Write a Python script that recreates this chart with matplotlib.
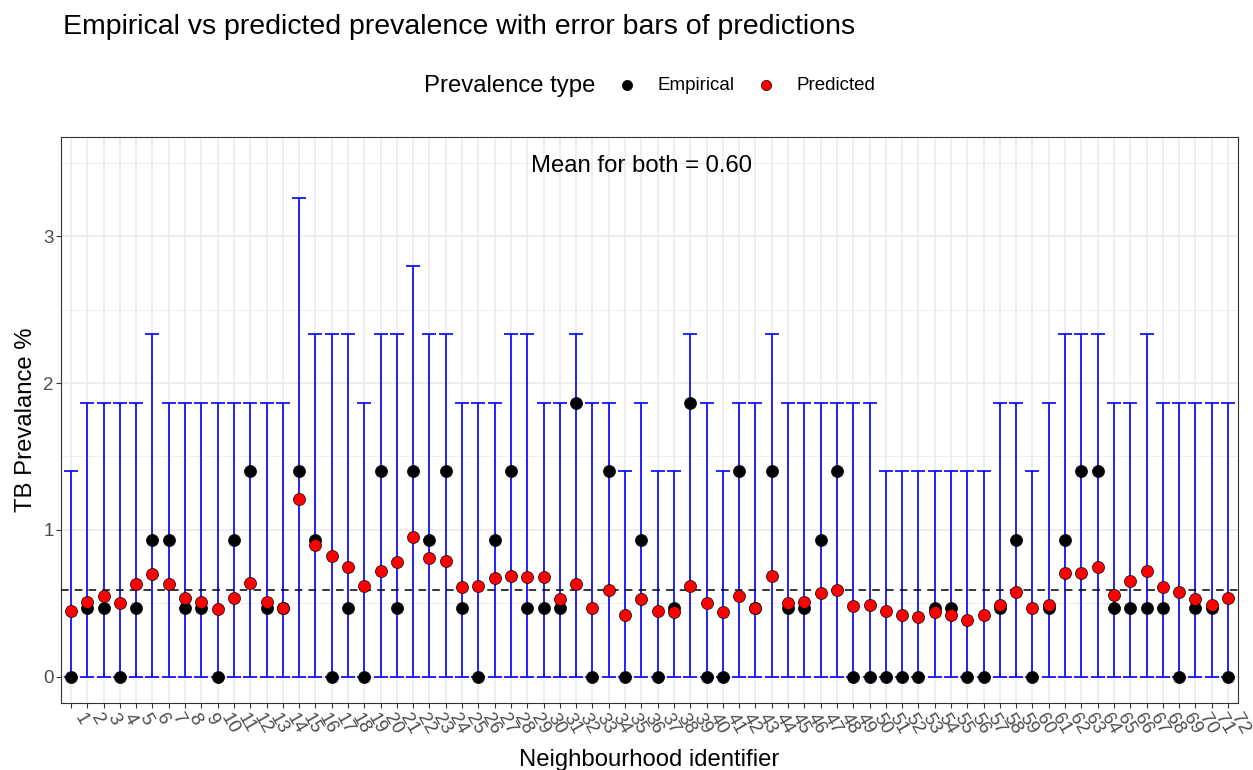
import numpy as np
import matplotlib
matplotlib.use("Agg")
import matplotlib.pyplot as plt
from matplotlib.ticker import MultipleLocator

plt.rcParams['font.family'] = ['Liberation Sans', 'DejaVu Sans']

# neighbourhood ids and prevalence values (%)
ids = list(range(1, 73))

empirical = [0, 0.466, 0.466, 0, 0.466, 0.932, 0.932, 0.466, 0.466, 0,
             0.932, 1.398, 0.466, 0.466, 1.398, 0.932, 0, 0.466, 0, 1.398,
             0.466, 1.398, 0.932, 1.398, 0.466, 0, 0.932, 1.398, 0.466, 0.466,
             0.466, 1.864, 0, 1.398, 0, 0.932, 0, 0.466, 1.864, 0,
             0, 1.398, 0.466, 1.398, 0.466, 0.466, 0.932, 1.398, 0, 0,
             0, 0, 0, 0.466, 0.466, 0, 0, 0.466, 0.932, 0,
             0.466, 0.932, 1.398, 1.398, 0.466, 0.466, 0.466, 0.466, 0, 0.466,
             0.466, 0]

predicted = [0.45, 0.51, 0.55, 0.50, 0.63, 0.70, 0.63, 0.54, 0.51, 0.46,
             0.54, 0.64, 0.51, 0.47, 1.21, 0.90, 0.82, 0.75, 0.62, 0.72,
             0.78, 0.95, 0.81, 0.79, 0.61, 0.62, 0.67, 0.69, 0.68, 0.68,
             0.53, 0.63, 0.47, 0.59, 0.42, 0.53, 0.45, 0.44, 0.62, 0.50,
             0.44, 0.55, 0.47, 0.69, 0.50, 0.51, 0.57, 0.59, 0.48, 0.49,
             0.45, 0.42, 0.41, 0.44, 0.42, 0.39, 0.42, 0.49, 0.58, 0.47,
             0.49, 0.71, 0.71, 0.75, 0.56, 0.65, 0.72, 0.61, 0.58, 0.53,
             0.49, 0.54]

lower = [0] * 72
upper = [1.398, 1.864, 1.864, 1.864, 1.864, 2.33, 1.864, 1.864, 1.864, 1.864,
         1.864, 1.864, 1.864, 1.864, 3.262, 2.33, 2.33, 2.33, 1.864, 2.33,
         2.33, 2.796, 2.33, 2.33, 1.864, 1.864, 1.864, 2.33, 2.33, 1.864,
         1.864, 2.33, 1.864, 1.864, 1.398, 1.864, 1.398, 1.398, 2.33, 1.864,
         1.398, 1.864, 1.864, 2.33, 1.864, 1.864, 1.864, 1.864, 1.864, 1.864,
         1.398, 1.398, 1.398, 1.398, 1.398, 1.398, 1.398, 1.864, 1.864, 1.398,
         1.864, 2.33, 2.33, 2.33, 1.864, 1.864, 2.33, 1.864, 1.864, 1.864,
         1.864, 1.864]

W, H = 1253, 770
fig = plt.figure(figsize=(W / 100, H / 100), dpi=100)
ax = fig.add_axes([61.2 / W, 1 - 702.7 / H, (1237.8 - 61.2) / W, (702.7 - 136.8) / H])

x = np.array(ids)
pred = np.array(predicted)
yerr = [pred - np.array(lower), np.array(upper) - pred]

ax.errorbar(x, pred, yerr=yerr, fmt='none', ecolor='#0000FF', elinewidth=1.2,
            capsize=4.8, capthick=1.2, zorder=2)

mean_emp = np.mean(empirical)
ax.axhline(mean_emp, color='black', lw=1.1, ls=(0, (5, 4)), zorder=3)

emp_pts = ax.scatter(x, empirical, s=75, c='black', edgecolors='black',
                     linewidths=0.5, zorder=4, label='Empirical')
pred_pts = ax.scatter(x, predicted, s=75, c='#FF0000', edgecolors='black',
                      linewidths=0.5, zorder=5, label='Predicted')

ax.text(36, 3.49, 'Mean for both = 0.60', ha='center', va='center_baseline',
        fontsize=17.2, color='black')

ax.set_xlim(0.4, 72.6)
ax.set_ylim(-0.175, 3.675)
ax.set_xticks(ids)
ax.set_xticklabels([str(i) for i in ids], rotation=-60, ha='left', va='top',
                   fontsize=13.5, color='#4D4D4D')
ax.set_yticks([0, 1, 2, 3])
ax.yaxis.set_minor_locator(MultipleLocator(0.5))
ax.tick_params(axis='y', which='minor', length=0)
ax.tick_params(axis='both', which='major', length=3.3, width=0.8, color='#333333',
               labelsize=13.5, labelcolor='#4D4D4D', pad=2)

ax.grid(True, which='major', color='#EBEBEB', lw=1.2, zorder=0)
ax.grid(True, which='minor', axis='y', color='#EBEBEB', lw=0.6, zorder=0)
ax.set_axisbelow(True)
for sp in ax.spines.values():
    sp.set_color('#333333')
    sp.set_linewidth(0.8)

ax.set_xlabel('Neighbourhood identifier', fontsize=17.2, va='top')
ax.xaxis.set_label_coords(0.5, -0.0815)
ax.set_ylabel('TB Prevalance %', fontsize=17.2)
ax.yaxis.set_label_coords(-0.0207, 0.5)

fig.text(63 / W, 1 - 34.3 / H, 'Empirical vs predicted prevalence with error bars of predictions',
         fontsize=20.5, va='baseline', ha='left')

# legend laid out in a single row, title placed to its left
fig.text(424 / W, 1 - 91.7 / H, 'Prevalence type', fontsize=17.2, va='baseline', ha='left')
fig.legend(handles=[emp_pts, pred_pts], loc='center left',
           bbox_to_anchor=((627 - 9.4) / W, 1 - 85 / H), ncol=2, frameon=False,
           fontsize=13.5, handlelength=1.0, handletextpad=1.15, columnspacing=1.15,
           borderpad=0, borderaxespad=0, scatterpoints=1, markerscale=0.85)

fig.savefig('out.png', dpi=100)
